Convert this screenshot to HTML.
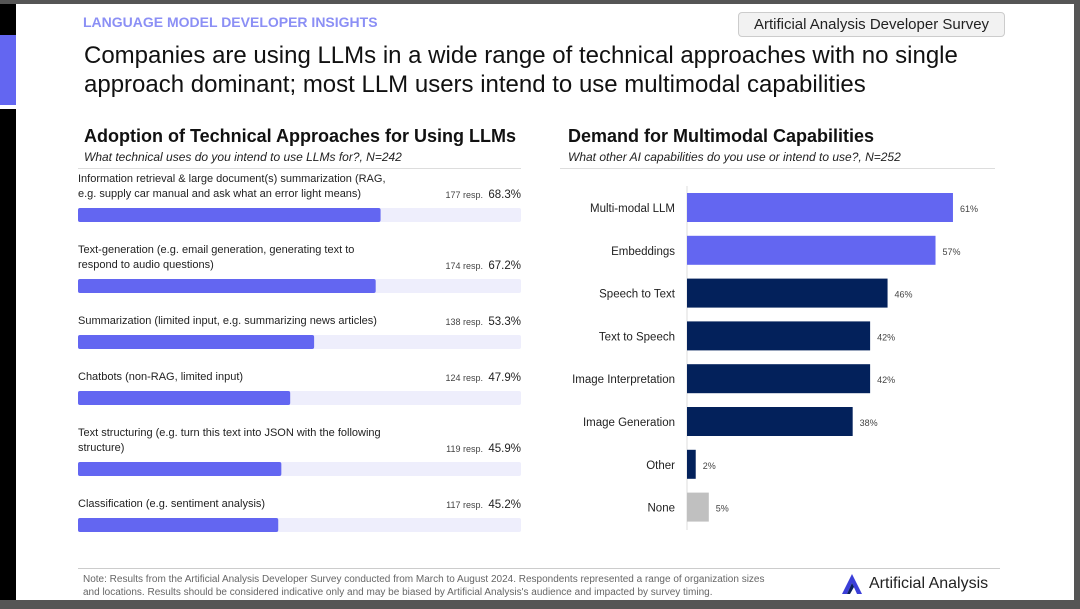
<!DOCTYPE html>
<html><head><meta charset="utf-8"><style>
body{margin:0;width:1080px;height:609px;overflow:hidden;background:#555;font-family:"Liberation Sans",sans-serif;}
#page{position:absolute;left:0;top:4px;width:1074px;height:596px;background:#fff;}
.abs{position:absolute;white-space:nowrap;}
</style></head><body>
<div id="page">
<div class="abs" style="left:0;top:0;width:16px;height:596px;background:#000"></div>
<div class="abs" style="left:0;top:31px;width:16px;height:70px;background:#6366f1"></div>
<div class="abs" style="left:0;top:101px;width:16px;height:4px;background:#fff"></div>
<div class="abs" style="left:83px;top:10px;font-size:14px;font-weight:bold;color:#8b8ff5">LANGUAGE MODEL DEVELOPER INSIGHTS</div>
<div class="abs" style="left:738px;top:8px;width:265px;height:23px;border:1px solid #ccc;border-radius:4px;background:#f2f2f2;font-size:15px;text-align:center;line-height:23px;color:#222">Artificial Analysis Developer Survey</div>
<div class="abs" style="left:84px;top:37px;font-size:24px;line-height:29px;color:#111">Companies are using LLMs in a wide range of technical approaches with no single<br>approach dominant; most LLM users intend to use multimodal capabilities</div>
<div class="abs" style="left:84px;top:122px;font-size:18px;font-weight:bold;color:#111">Adoption of Technical Approaches for Using LLMs</div>
<div class="abs" style="left:84px;top:146px;font-size:12px;font-style:italic;color:#222">What technical uses do you intend to use LLMs for?, N=242</div>
<div class="abs" style="left:78px;top:164px;width:443px;height:1px;background:#ddd"></div>
<div class="abs" style="left:568px;top:122px;font-size:18px;font-weight:bold;color:#111">Demand for Multimodal Capabilities</div>
<div class="abs" style="left:568px;top:146px;font-size:12px;font-style:italic;color:#222">What other AI capabilities do you use or intend to use?, N=252</div>
<div class="abs" style="left:560px;top:164px;width:435px;height:1px;background:#ddd"></div>
<svg id="chart" class="abs" style="left:0;top:-4px" width="1080" height="609"></svg>
<div class="abs" style="left:78px;top:564px;width:922px;height:1px;background:#ccc"></div>
<div class="abs" style="left:83px;top:569px;font-size:10px;line-height:13px;color:#666">Note: Results from the Artificial Analysis Developer Survey conducted from March to August 2024. Respondents represented a range of organization sizes<br>and locations. Results should be considered indicative only and may be biased by Artificial Analysis's audience and impacted by survey timing.</div>
<svg class="abs" style="left:840px;top:568px" width="24" height="24"><path d="M2 22 L12 2 L22 22 L17 22 L12 11 L7 22Z" fill="#3b3fd8"/><path d="M7 22 L12 11 L14 15 L10 22Z" fill="#0a1f5c"/></svg>
<div class="abs" style="left:869px;top:571px;font-size:16px;color:#222">Artificial Analysis</div>
</div>
<script>
const useLines=[["Information retrieval & large document(s) summarization (RAG,","e.g. supply car manual and ask what an error light means)"],["Text-generation (e.g. email generation, generating text to","respond to audio questions)"],["Summarization (limited input, e.g. summarizing news articles)"],["Chatbots (non-RAG, limited input)"],["Text structuring (e.g. turn this text into JSON with the following","structure)"],["Classification (e.g. sentiment analysis)"]];
const useResp=[177,174,138,124,119,117];
const usePct=[68.3,67.2,53.3,47.9,45.9,45.2];
const capCats=["Multi-modal LLM","Embeddings","Speech to Text","Text to Speech","Image Interpretation","Image Generation","Other","None"];
const capVals=[61,57,46,42,42,38,2,5];
const capGroup=["multimodal","multimodal","audio","audio","image","image","other","none"];

const svg=document.getElementById('chart');const NS="http://www.w3.org/2000/svg";
function mk(t,a,txt){const e=document.createElementNS(NS,t);for(const k in a)e.setAttribute(k,a[k]);if(txt!==undefined)e.textContent=txt;svg.appendChild(e);return e;}
// left chart
const lx=v=>78+v/100*443;
let yCur=171;
useLines.forEach((lines,i)=>{
  lines.forEach((l,j)=>{const t=mk('text',{x:78,y:yCur+j*15+11,'font-size':11,fill:'#222'},l);
  
  });
  const ly=yCur+(lines.length-1)*15+11;
  const p=mk('text',{x:521,y:ly+1,'font-size':11.5,fill:'#222','text-anchor':'end'},usePct[i].toFixed(1)+'%');
  
  
  const r=mk('text',{x:483,y:ly+1,'font-size':9,fill:'#444','text-anchor':'end'},useResp[i]+' resp.');
  
  
  const by=yCur+lines.length*15+7;
  const tr=mk('rect',{x:78,y:by,width:443,height:14,rx:2,fill:'#eeeefc'});
  
  
  const b=mk('rect',{x:78,y:by,width:lx(usePct[i])-78,height:14,rx:2,fill:'#6366f1'});
  
  
  yCur=by+34;
});
// right chart
const x0=687,rx=v=>x0+v*4.36;
const colors={multimodal:'#6366f1',audio:'#03215b',image:'#03215b',other:'#03215b',none:'#c0c0c0'};
const ax=mk('line',{x1:x0,y1:186,x2:x0,y2:530,stroke:'#ddd','stroke-width':1});


capCats.forEach((c,i)=>{
  const y=193+i*42.8;
  const b=mk('rect',{x:x0,y:y,width:rx(capVals[i])-x0,height:29,fill:colors[capGroup[i]]});
  
  
  const l=mk('text',{x:675,y:y+19,'font-size':11.5,fill:'#222','text-anchor':'end'},c);
  
  
  const v=mk('text',{x:rx(capVals[i])+7,y:y+19,'font-size':9,fill:'#444'},capVals[i]+'%');
  
  
});
</script>
</body></html>
